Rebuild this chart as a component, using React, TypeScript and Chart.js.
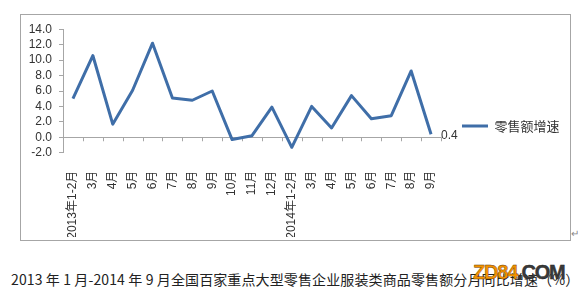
import React, { useEffect, useRef } from "react";
import { Chart, registerables } from "chart.js";

Chart.register(...registerables);

const categories = [
  "2013年1-2月", "3月", "4月", "5月", "6月", "7月", "8月", "9月", "10月", "11月", "12月",
  "2014年1-2月", "3月", "4月", "5月", "6月", "7月", "8月", "9月",
];
const growth = [5.0, 10.6, 1.7, 6.1, 12.2, 5.1, 4.8, 6.0, -0.3, 0.2, 3.9, -1.3, 4.0, 1.2, 5.4, 2.4, 2.8, 8.6, 0.4];
const seriesName = "零售额增速";
const yMin = -2;
const yMax = 14;
const yStep = 2;
const caption = "2013 年 1 月-2014 年 9 月全国百家重点大型零售企业服装类商品零售额分月同比增速（%）";

const AXIS_COLOR = "#a6a6a6";
const LINE_COLOR = "#3f6ea8";
const TEXT_COLOR = "#333333";
const LATIN = "'Liberation Sans', 'Noto Sans CJK SC', sans-serif";

const zeroTicksPlugin = {
  id: "zeroTicks",
  beforeDatasetsDraw(chart: any) {
    const x = chart.scales.x;
    const y = chart.scales.y;
    const y0 = y.getPixelForValue(0);
    const ctx = chart.ctx;
    ctx.save();
    ctx.strokeStyle = AXIS_COLOR;
    ctx.lineWidth = 1;
    ctx.beginPath();
    for (let i = 0; i <= categories.length; i++) {
      const px = Math.round(x.getPixelForValue(i - 0.5)) + 0.5;
      ctx.moveTo(px, y0);
      ctx.lineTo(px, y0 + 4);
    }
    ctx.stroke();
    ctx.restore();
  },
};

const lastLabelPlugin = {
  id: "lastLabel",
  afterDatasetsDraw(chart: any) {
    const meta = chart.getDatasetMeta(0);
    const last = meta.data[meta.data.length - 1];
    const v = growth[growth.length - 1];
    const ctx = chart.ctx;
    ctx.save();
    ctx.font = `12px ${LATIN}`;
    ctx.fillStyle = TEXT_COLOR;
    ctx.textAlign = "left";
    ctx.textBaseline = "middle";
    ctx.fillText(v.toFixed(1), last.x + 10, last.y + 1);
    ctx.restore();
  },
};

function LineChart() {
  const ref = useRef<HTMLCanvasElement>(null);
  useEffect(() => {
    if (!ref.current) return;
    const chart = new Chart(ref.current, {
      type: "line",
      data: {
        labels: categories,
        datasets: [
          {
            label: seriesName,
            data: growth,
            borderColor: LINE_COLOR,
            backgroundColor: LINE_COLOR,
            borderWidth: 3,
            pointRadius: 0,
            tension: 0,
            borderJoinStyle: "round",
          },
        ],
      },
      options: {
        responsive: false,
        animation: false,
        devicePixelRatio: 1,
        layout: { padding: { left: 0, right: 0.5, top: 0, bottom: 3 } },
        plugins: {
          title: {
            display: true,
            text: " ",
            font: { size: 10, lineHeight: 1 },
            padding: { top: 2, bottom: 2.3 },
          },
          legend: {
            position: "right",
            labels: {
              usePointStyle: true,
              pointStyle: "line",
              pointStyleWidth: 26,
              padding: 21,
              color: TEXT_COLOR,
              font: { size: 13, family: "'Noto Sans CJK SC', sans-serif" },
            },
          },
          tooltip: { enabled: false },
        },
        scales: {
          x: {
            type: "category",
            offset: true,
            grid: { display: false },
            border: { display: false },
            ticks: {
              minRotation: 90,
              maxRotation: 90,
              autoSkip: false,
              padding: 10,
              color: TEXT_COLOR,
              font: { size: 12, family: LATIN },
            },
            afterFit: (s: any) => {
              s.height = 84.3;
            },
          },
          y: {
            min: yMin,
            max: yMax,
            grid: {
              color: (c: any) => (c.tick && c.tick.value === 0 ? AXIS_COLOR : "rgba(0,0,0,0)"),
              tickColor: AXIS_COLOR,
              tickLength: 4,
              drawOnChartArea: true,
            },
            border: { display: true, color: AXIS_COLOR },
            ticks: {
              stepSize: yStep,
              autoSkip: false,
              padding: 7,
              color: TEXT_COLOR,
              font: { size: 12, family: LATIN },
              callback: (v: any) => Number(v).toFixed(1),
            },
            afterFit: (s: any) => {
              s.width = 42;
            },
          },
        },
      },
      plugins: [zeroTicksPlugin, lastLabelPlugin],
    } as any);
    return () => chart.destroy();
  }, []);
  return <canvas ref={ref} width={549} height={225} style={{ display: "block", width: 549, height: 225 }} />;
}

export default function App() {
  return (
    <div style={{ position: "absolute", left: 0, top: 0, width: 578, height: 293, background: "#fff", overflow: "hidden" }}>
      <div
        style={{
          position: "absolute",
          left: 20,
          top: 14,
          width: 551,
          height: 227,
          border: `1px solid ${AXIS_COLOR}`,
          boxSizing: "border-box",
        }}
      >
        <LineChart />
      </div>
      <div style={{ position: "absolute", left: 571, top: 229, fontSize: 10, color: "#888", fontFamily: LATIN, lineHeight: "10px" }}>↵</div>
      <div
        style={{
          position: "absolute",
          left: 11,
          top: 271,
          whiteSpace: "nowrap",
          fontSize: 14,
          lineHeight: "16px",
          letterSpacing: 0.12,
          color: "#222",
          fontFamily: "'Noto Sans CJK SC', sans-serif",
        }}
      >
        {caption}
        <span style={{ fontSize: 10, color: "#888" }}>↵</span>
      </div>
      <div
        style={{
          position: "absolute",
          left: 473,
          top: 260,
          whiteSpace: "nowrap",
          fontSize: 20,
          lineHeight: "24px",
          fontWeight: "bold",
          letterSpacing: -1.2,
          fontFamily: "'Liberation Sans', sans-serif",
          WebkitTextStroke: "0.4px #6a3a00",
        }}
      >
        <span style={{ color: "#f39200" }}>ZD84</span>
        <span style={{ color: "#3a3a3a", WebkitTextStroke: "0.4px #222" }}>.COM</span>
      </div>
    </div>
  );
}
